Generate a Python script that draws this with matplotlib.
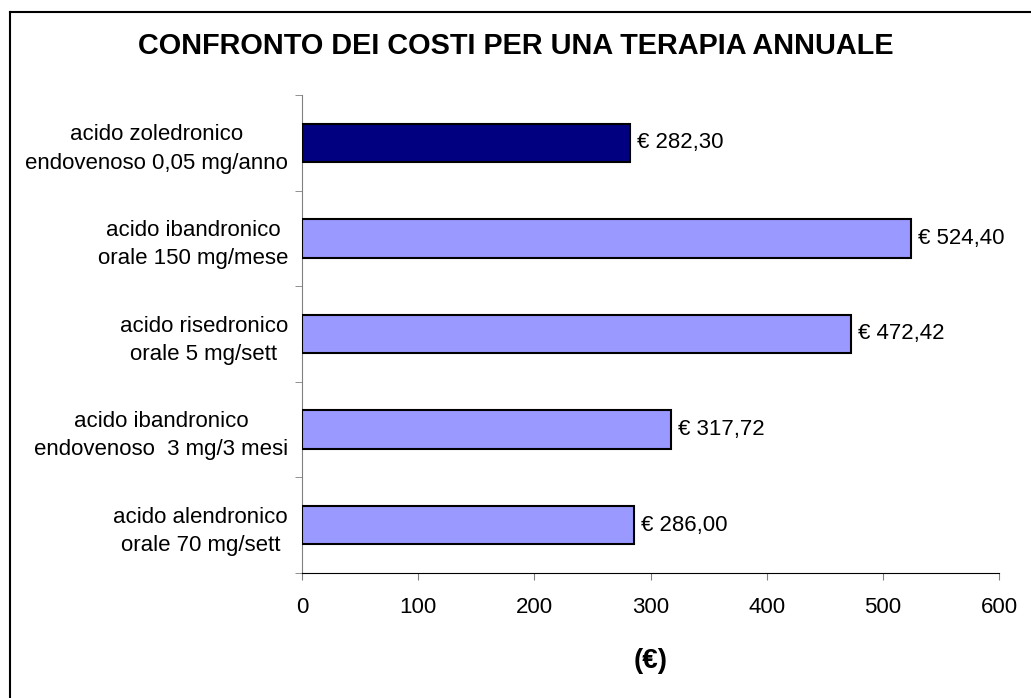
import matplotlib
matplotlib.use("Agg")
import matplotlib.pyplot as plt
from matplotlib.lines import Line2D

categories = [
    "acido zoledronico\nendovenoso 0,05 mg/anno",
    "acido ibandronico\norale 150 mg/mese",
    "acido risedronico\norale 5 mg/sett",
    "acido ibandronico\nendovenoso  3 mg/3 mesi",
    "acido alendronico\norale 70 mg/sett",
]
values = [282.30, 524.40, 472.42, 317.72, 286.00]
value_labels = ["€ 282,30", "€ 524,40", "€ 472,42", "€ 317,72", "€ 286,00"]
colors = ["#000080", "#9999FF", "#9999FF", "#9999FF", "#9999FF"]
xticks = [0, 100, 200, 300, 400, 500, 600]

plt.rcParams['font.family'] = ['Liberation Sans', 'DejaVu Sans']

W, H = 1031, 698
fig = plt.figure(figsize=(W / 100, H / 100), dpi=100)
# partial frame (left and top edges visible in the crop)
bx, by = 9.5 / W, 1 - 12 / H
fig.add_artist(Line2D([bx, bx], [0, by], transform=fig.transFigure, color='black', linewidth=1.5))
fig.add_artist(Line2D([bx, 1], [by, by], transform=fig.transFigure, color='black', linewidth=1.5))

ax = fig.add_axes([302 / W, 1 - 573 / H, (999 - 302) / W, (573 - 95) / H])

n = len(categories)
ypos = list(range(n))[::-1]
ax.barh(ypos, values, height=0.4, color=colors, edgecolor='black', linewidth=1.5, zorder=3)
for y, v, lab in zip(ypos, values, value_labels):
    ax.annotate(lab, xy=(v, y), xytext=(5, 0), textcoords='offset points',
                va='center', ha='left', fontsize=16)

ax.set_xlim(0, 600)
ax.set_ylim(-0.5, n - 0.5)
ax.set_xticks(xticks)
ax.set_xticklabels([str(t) for t in xticks], fontsize=16)
ax.set_yticks(ypos)
ax.set_yticklabels(categories, fontsize=16, multialignment='center', linespacing=1.45)
ax.set_yticks([i - 0.5 for i in range(n + 1)], minor=True)
ax.tick_params(axis='y', which='major', length=0, pad=10)
ax.tick_params(axis='y', which='minor', length=5, color='#808080', direction='out')
ax.tick_params(axis='x', which='major', length=5, color='#808080', direction='out', pad=12)
for s in ['top', 'right']:
    ax.spines[s].set_visible(False)
ax.spines['left'].set_color('#808080')
ax.spines['bottom'].set_color('black')

ax.set_xlabel("(€)", fontsize=20, fontweight='bold', labelpad=22)
fig.text(0.5, 1 - 46 / H, "CONFRONTO DEI COSTI PER UNA TERAPIA ANNUALE",
         ha='center', va='center', fontsize=20.8, fontweight='bold')

fig.savefig("out.png", dpi=100)
